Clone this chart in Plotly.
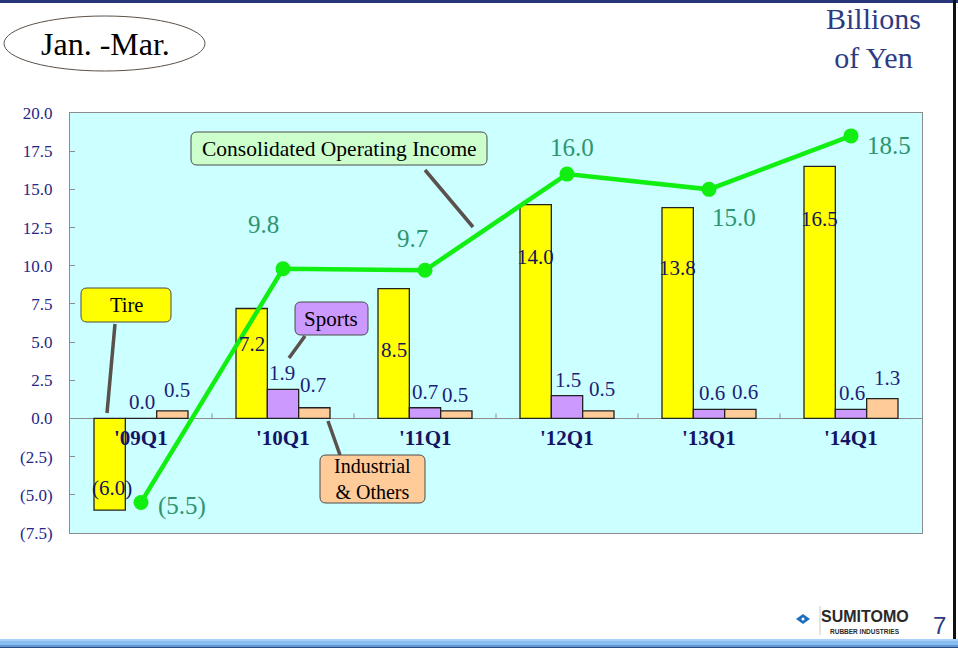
import plotly.graph_objects as go

# ---------------- data ----------------
categories = ["'09Q1", "'10Q1", "'11Q1", "'12Q1", "'13Q1", "'14Q1"]
tire = [-6.0, 7.2, 8.5, 14.0, 13.8, 16.5]
sports = [0.0, 1.9, 0.7, 1.5, 0.6, 0.6]
industrial = [0.5, 0.7, 0.5, 0.5, 0.6, 1.3]
operating_income = [-5.5, 9.8, 9.7, 16.0, 15.0, 18.5]
y_tick_values = [-7.5, -5.0, -2.5, 0.0, 2.5, 5.0, 7.5, 10.0, 12.5, 15.0, 17.5, 20.0]

# ---------------- styling ----------------
W, H = 958, 648
ML, MR, MT, MB = 70, 36, 113, 115
PW, PH = W - ML - MR, H - MT - MB
SERIF = "Liberation Serif"
NAVY = "#1E1E78"
LINE_LBL = "#2F9470"
BAR_GAP = 0.338
BAR_OFF = (1 - BAR_GAP) / 3

def fmt(v):
    return f"({abs(v):.1f})" if v < 0 else f"{v:.1f}"

def px(x):
    return (x - ML) / PW

def py(y):
    return (H - MB - y) / PH

fig = go.Figure()

bar_line = dict(color="#222222", width=1.3)
fig.add_trace(go.Bar(name="Tire", x=categories, y=tire,
                     marker=dict(color="#FFFF00", line=bar_line)))
fig.add_trace(go.Bar(name="Sports", x=categories, y=sports,
                     marker=dict(color="#CC99FF", line=bar_line)))
fig.add_trace(go.Bar(name="Industrial & Others", x=categories, y=industrial,
                     marker=dict(color="#FFCC99", line=bar_line)))
fig.add_trace(go.Scatter(name="Consolidated Operating Income", x=categories, y=operating_income,
                         mode="lines+markers",
                         line=dict(color="#11EE11", width=4.5),
                         marker=dict(color="#11EE11", size=15)))

ann = []
# tire labels (inside bars)
tire_yshift = [22, -36, -61, -52, -60, -53]
for i, v in enumerate(tire):
    ann.append(dict(x=i - BAR_OFF, y=v, xref="x", yref="y", text=fmt(v), showarrow=False,
                    yshift=tire_yshift[i], xshift=2 if i == 0 else 0,
                    font=dict(family=SERIF, size=21, color="#14145A")))
# sports labels
sports_xshift = [1, -1, 0, 1, 3, 1]
for i, v in enumerate(sports):
    ann.append(dict(x=i, y=v, xref="x", yref="y", text=fmt(v), showarrow=False,
                    yshift=16, xshift=sports_xshift[i],
                    font=dict(family=SERIF, size=21, color=NAVY)))
# industrial labels
ind_xshift = [5, -1, -1, 4, 5, 5]
ind_yshift = [21, 23, 16, 22, 17, 21]
for i, v in enumerate(industrial):
    ann.append(dict(x=i + BAR_OFF, y=v, xref="x", yref="y", text=fmt(v), showarrow=False,
                    yshift=ind_yshift[i], xshift=ind_xshift[i],
                    font=dict(family=SERIF, size=21, color=NAVY)))
# operating income labels
oi_shift = [(41, -4), (-20, 44), (-13, 32), (5, 27), (25, -28), (38, -10)]
for i, v in enumerate(operating_income):
    ann.append(dict(x=i, y=v, xref="x", yref="y", text=fmt(v), showarrow=False,
                    xshift=oi_shift[i][0], yshift=oi_shift[i][1],
                    font=dict(family=SERIF, size=25, color=LINE_LBL)))
# category labels along the zero line
for c in categories:
    ann.append(dict(x=c, y=0, xref="x", yref="y", text=f"<b>{c}</b>", showarrow=False,
                    yshift=-20, font=dict(family=SERIF, size=21, color="#141466")))

shapes = []

def rounded(x0, y0, x1, y1, r, fill):
    pts = [
        f"M {px(x0 + r)},{py(y0)}", f"L {px(x1 - r)},{py(y0)}",
        f"Q {px(x1)},{py(y0)} {px(x1)},{py(y0 + r)}", f"L {px(x1)},{py(y1 - r)}",
        f"Q {px(x1)},{py(y1)} {px(x1 - r)},{py(y1)}", f"L {px(x0 + r)},{py(y1)}",
        f"Q {px(x0)},{py(y1)} {px(x0)},{py(y1 - r)}", f"L {px(x0)},{py(y0 + r)}",
        f"Q {px(x0)},{py(y0)} {px(x0 + r)},{py(y0)}", "Z"]
    return dict(type="path", xref="paper", yref="paper", path=" ".join(pts),
                fillcolor=fill, line=dict(color="#4A4A4A", width=1), layer="above")

def seg(x0, y0, x1, y1, color="#5A504C", width=3.5):
    return dict(type="line", xref="paper", yref="paper", x0=px(x0), y0=py(y0),
                x1=px(x1), y1=py(y1), line=dict(color=color, width=width), layer="above")

def text_at(x, y, t, size, color="black", family=SERIF, **kw):
    return dict(xref="paper", yref="paper", x=px(x), y=py(y), text=t, showarrow=False,
                xanchor="center", yanchor="middle",
                font=dict(family=family, size=size, color=color), **kw)

# callouts
shapes.append(seg(115, 324, 107, 413))
shapes.append(rounded(81, 288, 171, 322, 6, "#FFFF00"))
ann.append(text_at(126, 305, "Tire", 20.5))

shapes.append(seg(305, 336, 289, 358))
shapes.append(rounded(295, 302, 368, 335, 6, "#CC99FF"))
ann.append(text_at(331, 319, "Sports", 21))

shapes.append(seg(328, 421, 340, 455))
shapes.append(rounded(320, 455, 425, 503, 6, "#FFCC99"))
ann.append(text_at(372, 479, "Industrial<br>& Others", 20))

shapes.append(seg(425, 170, 473, 227))
shapes.append(rounded(191, 132, 487, 165, 6, "#CCFFCC"))
ann.append(text_at(339, 149, "Consolidated Operating Income", 21.5))

# small tick marks on the zero line between categories
for i in range(len(categories) - 1):
    shapes.append(dict(type="line", xref="x", yref="y", x0=i + 0.5, x1=i + 0.5,
                       ysizemode="pixel", yanchor=0, y0=0, y1=5,
                       line=dict(color="#8C8C8C", width=1)))

# page decorations
shapes.append(dict(type="rect", xref="paper", yref="paper", x0=px(0), x1=px(W), y0=py(0), y1=py(3),
                   fillcolor="#27357A", line=dict(width=0), layer="above"))
shapes.append(dict(type="rect", xref="paper", yref="paper", x0=px(953), x1=px(956), y0=py(0), y1=py(639),
                   fillcolor="#111111", line=dict(width=0), layer="above"))
for (a, b, col) in [(639, 641, "#A9D1F8"), (641, 645, "#88BEF2"), (645, 647, "#5F95D0"), (647, 648, "#2A4F80")]:
    shapes.append(dict(type="rect", xref="paper", yref="paper", x0=px(0), x1=px(W), y0=py(a), y1=py(b),
                       fillcolor=col, line=dict(width=0), layer="above"))
# ellipse
shapes.append(dict(type="circle", xref="paper", yref="paper", x0=px(4), x1=px(205), y0=py(16), y1=py(71),
                   fillcolor="white", line=dict(color="#5A5048", width=1)))
ann.append(text_at(105, 44, "Jan. -Mar.", 32))
ann.append(text_at(873, 38, "Billions<br>of Yen", 30, color="#2D3C82"))

# logo
logo_diamond = (f"M {px(796)},{py(619)} L {px(803)},{py(614)} L {px(810)},{py(619)} "
                f"L {px(803)},{py(624)} Z")
shapes.append(dict(type="path", xref="paper", yref="paper", path=logo_diamond,
                   fillcolor="#1E6FC0", line=dict(width=0)))
shapes.append(dict(type="circle", xref="paper", yref="paper", x0=px(801.5), x1=px(804.5),
                   y0=py(617.5), y1=py(620.5), fillcolor="white", line=dict(width=0)))
shapes.append(seg(820, 606, 820, 635, color="#C8C8C8", width=1))
ann.append(text_at(865, 616, "<b>SUMITOMO</b>", 16, color="#2A2A2A", family="Liberation Sans Narrow, Liberation Sans"))
ann.append(text_at(865, 631, "<b>RUBBER INDUSTRIES</b>", 6.5, color="#2A2A2A", family="Liberation Sans"))
ann.append(text_at(939, 625, "7", 24, color="#2D3C82", family="Liberation Sans"))

fig.update_layout(
    width=W, height=H,
    margin=dict(l=ML, r=MR, t=MT, b=MB, pad=0),
    paper_bgcolor="white", plot_bgcolor="#CCFFFF",
    barmode="group", bargap=BAR_GAP, bargroupgap=0,
    showlegend=False, hovermode=False,
    annotations=ann, shapes=shapes,
    xaxis=dict(type="category", range=[-0.5, 5.5], showticklabels=False, ticks="",
               showgrid=False, showline=True, mirror=True, linecolor="#8C8C8C", linewidth=1,
               zeroline=False),
    yaxis=dict(range=[-7.5, 20], tickvals=y_tick_values, ticktext=[fmt(v) for v in y_tick_values],
               ticks="inside", ticklen=5, tickcolor="#8C8C8C", showgrid=False,
               showline=True, mirror=True, linecolor="#8C8C8C", linewidth=1,
               zeroline=True, zerolinecolor="#8C8C8C", zerolinewidth=1,
               ticklabelstandoff=13,
               tickfont=dict(family=SERIF, size=17, color="#262688")),
)

fig.write_html("out.html")
